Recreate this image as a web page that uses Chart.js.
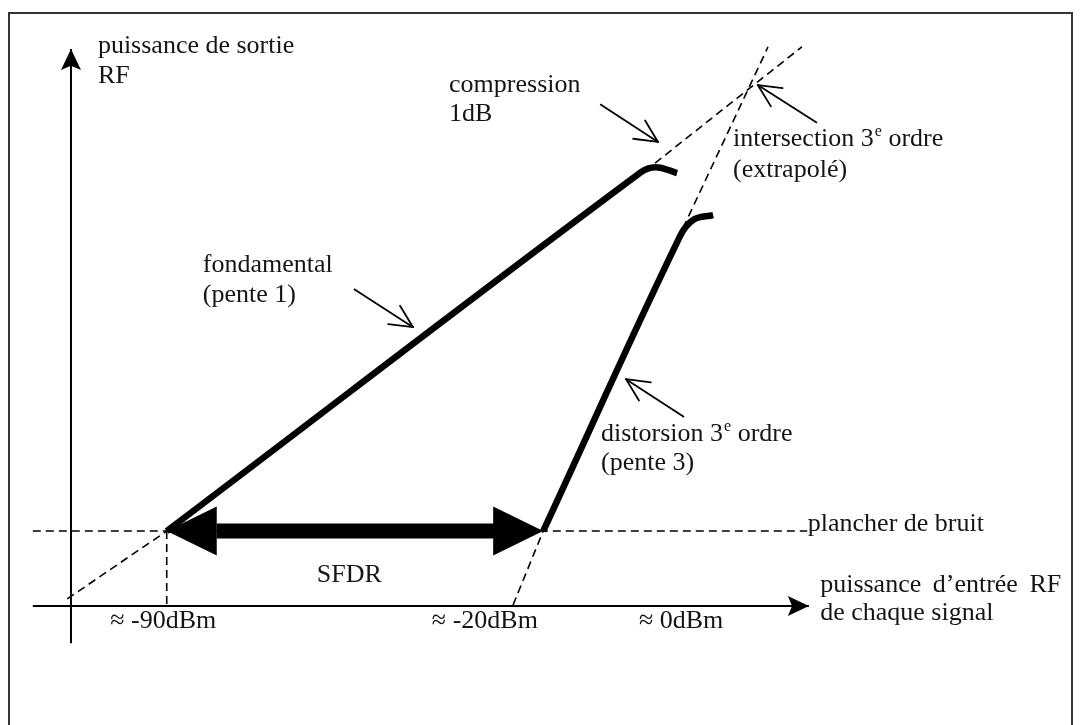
<!DOCTYPE html>
<html>
<head>
<meta charset="utf-8">
<title>SFDR</title>
<script src="https://cdn.jsdelivr.net/npm/chart.js@4.4.1/dist/chart.umd.min.js"></script>
<style>
  html, body { margin: 0; background: #fff; }
  #wrap { position: relative; width: 1081px; height: 725px; overflow: hidden; }
  #frame { position: absolute; left: 8px; top: 12px; width: 1061px; height: 740px; border: 2px solid #333; }
  #sketch { position: absolute; left: 0; top: 0; }
</style>
</head>
<body>
<div id="wrap">
  <div id="frame"></div>
  <canvas id="sketch" width="1081" height="725"></canvas>
</div>
<script>
// x = input power (dBm), y = output power (dBm)
const fundamental = [[-90, -90], [-2.0, -1.8], [0.9, -0.4], [4.9, -1.85]];
const thirdOrder = [[-20, -90], [5.4, -17.5], [8.0, -13.3], [11.6, -12.2]];
const fundExtLow = [[-108.5, -106.7], [-90, -90]];
const fundExtHigh = [[0.8, 0.6], [28.1, 29.2]];
const thirdExtLow = [[-25.6, -108.2], [-20, -90]];
const thirdExtHigh = [[6.0, -15.4], [21.8, 29.2]];
const noiseFloor = [[-114.9, -90], [29.1, -90]];
const floorMarker = [[-90, -90], [-90, -108.2]];
const xAxisLine = [[-114.9, -108.45], [29.4, -108.45]];
const yAxisLine = [[-107.8, -117.6], [-107.8, 28.7]];
const sfdrShaft = [[-80.7, -90], [-29.1, -90]];
const sfdrEnds = [-90, -20];

// annotation pointers: [from, tip]
const pointers = [
  [[-55.2, -30.4], [-44.2, -39.8]],
  [[-9.4, 15.1], [1.35, 5.8]],
  [[30.9, 10.5], [19.9, 19.8]],
  [[6.2, -61.9], [-4.6, -52.6]]
];

const tickLabels = ['≈ -90dBm', '≈ -20dBm', '≈ 0dBm'];
const tickAt = [-100.5, -40.7, -2.2];

const labels = [
  { lines: ['puissance de sortie', 'RF'], at: [-102.8, 27.7], gap: 30 },
  { lines: ['compression', '1dB'], at: [-37.5, 18.1], gap: 29 },
  { lines: ['intersection 3^e ordre', '(extrapolé)'], at: [15.3, 4.8], gap: 31 },
  { lines: ['fondamental', '(pente 1)'], at: [-83.3, -26.2], gap: 30 },
  { lines: ['distorsion 3^e ordre', '(pente 3)'], at: [-9.25, -67.8], gap: 29 },
  { lines: ['plancher de bruit'], at: [29.2, -90], gap: 0 },
  { lines: ['puissance d’entrée RF', 'de chaque signal'], at: [31.5, -105.0], gap: 28, wordGap: 5 },
  { lines: ['SFDR'], at: [-62.1, -102.5], gap: 0 }
];

const FONT = '"Liberation Serif", "DejaVu Serif", serif';
const INK = '#151515';

const pts = arr => arr.map(([x, y]) => ({ x, y }));
const line = (data, width, dash, extra) => Object.assign({
  data: pts(data),
  showLine: true,
  pointRadius: 0,
  borderColor: '#000',
  borderWidth: width,
  borderDash: dash || [],
  fill: false
}, extra || {});

const DASH = [8, 5];

const drawRich = (ctx, text, x, y, wordGap) => {
  const parts = text.split(/\^(\w)/);
  let cx = x;
  parts.forEach((p, i) => {
    if (i % 2 === 1) {
      ctx.font = '16px ' + FONT;
      ctx.fillText(p, cx + 1, y - 10);
      cx += ctx.measureText(p).width + 1;
    } else {
      ctx.font = '26px ' + FONT;
      if (wordGap) {
        p.split(' ').forEach((w, k) => {
          if (k > 0) cx += ctx.measureText(' ').width + wordGap;
          ctx.fillText(w, cx, y);
          cx += ctx.measureText(w).width;
        });
      } else {
        ctx.fillText(p, cx, y);
        cx += ctx.measureText(p).width;
      }
    }
  });
};

const sketchPlugin = {
  id: 'sketch',
  afterDatasetsDraw(chart) {
    const { ctx, scales } = chart;
    const P = ([x, y]) => [scales.x.getPixelForValue(x), scales.y.getPixelForValue(y)];

    const solidHead = (tip, from, len, half, notch) => {
      const [tx, ty] = P(tip), [fx, fy] = P(from);
      const a = Math.atan2(ty - fy, tx - fx);
      const ux = Math.cos(a), uy = Math.sin(a);
      const bx = tx - ux * len, by = ty - uy * len;
      ctx.beginPath();
      ctx.moveTo(tx, ty);
      ctx.lineTo(bx - uy * half, by + ux * half);
      ctx.lineTo(tx - ux * len * notch, ty - uy * len * notch);
      ctx.lineTo(bx + uy * half, by - ux * half);
      ctx.closePath();
      ctx.fill();
    };

    ctx.save();
    ctx.fillStyle = '#000';
    ctx.strokeStyle = '#000';

    solidHead(yAxisLine[1], yAxisLine[0], 21, 10, 0.8);
    solidHead(xAxisLine[1], xAxisLine[0], 21, 10, 0.8);
    solidHead([sfdrEnds[0], -90], [sfdrEnds[1], -90], 50, 24.5, 1);
    solidHead([sfdrEnds[1], -90], [sfdrEnds[0], -90], 50, 24.5, 1);

    // open arrow heads on the pointers
    ctx.lineWidth = 1.8;
    ctx.lineCap = 'round';
    pointers.forEach(([from, tip]) => {
      const [tx, ty] = P(tip), [fx, fy] = P(from);
      const a = Math.atan2(fy - ty, fx - tx);
      [-0.45, 0.45].forEach(d => {
        ctx.beginPath();
        ctx.moveTo(tx, ty);
        ctx.lineTo(tx + Math.cos(a + d) * 25, ty + Math.sin(a + d) * 25);
        ctx.stroke();
      });
    });

    ctx.fillStyle = INK;
    ctx.textBaseline = 'alphabetic';
    ctx.textAlign = 'left';
    labels.forEach(l => {
      const [x, y] = P(l.at);
      // only the first line of the x-axis title is spread out
      l.lines.forEach((t, i) => drawRich(ctx, t, x, y + i * l.gap, i === 0 ? l.wordGap : 0));
    });
    tickLabels.forEach((t, i) => {
      const [x, y] = P([tickAt[i], -113.9]);
      drawRich(ctx, t, x, y);
    });
    ctx.restore();
  }
};

new Chart(document.getElementById('sketch'), {
  type: 'scatter',
  data: {
    datasets: [
      line(fundamental, 6.5, null, { tension: 0.4, borderJoinStyle: 'round' }),
      line(thirdOrder, 6.5, null, { tension: 0.4, borderJoinStyle: 'round' }),
      line(fundExtLow, 1.6, DASH),
      line(fundExtHigh, 1.6, DASH),
      line(thirdExtLow, 1.6, DASH),
      line(thirdExtHigh, 1.6, DASH),
      line(noiseFloor, 1.6, DASH),
      line(floorMarker, 1.6, DASH),
      line(xAxisLine, 2),
      line(yAxisLine, 2),
      line(sfdrShaft, 15),
      ...pointers.map(p => line(p, 1.8))
    ]
  },
  options: {
    responsive: false,
    animation: false,
    layout: { padding: 0 },
    plugins: { legend: { display: false }, tooltip: { enabled: false } },
    scales: {
      x: { type: 'linear', min: -121, max: 80, display: false },
      y: { type: 'linear', min: -137.75, max: 40.75, display: false }
    }
  },
  plugins: [sketchPlugin]
});
</script>
</body>
</html>
